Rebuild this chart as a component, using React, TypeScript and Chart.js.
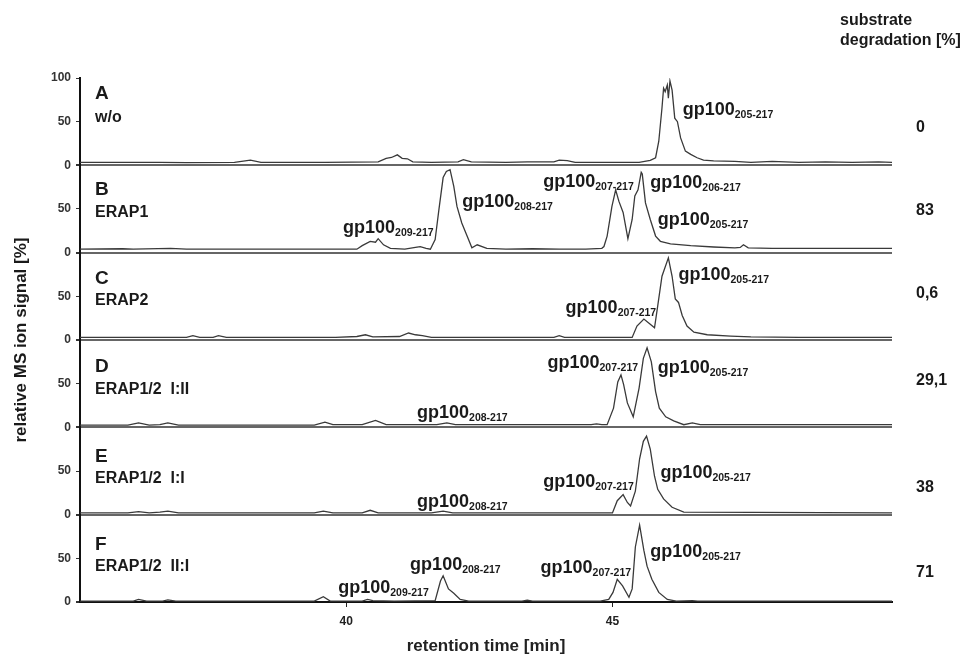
import React, { useEffect, useRef } from "react";
import { Chart, registerables } from "chart.js";

Chart.register(...registerables);

// ---------- data ----------
const xTicks = [40, 45];
const yTicksTop = [0, 50, 100];
const yTicksOther = [0, 50];

const panelLetters = ["A", "B", "C", "D", "E", "F"];
const panelConditions = ["w/o", "ERAP1", "ERAP2", "ERAP1/2  I:II", "ERAP1/2  I:I", "ERAP1/2  II:I"];
const degradationValues = ["0", "83", "0,6", "29,1", "38", "71"];

const timeA = [35.0, 36.5, 37.0, 37.9, 38.2, 38.4, 39.6, 40.6, 40.75, 40.85, 40.96, 41.05, 41.15, 41.25, 41.6, 42.1, 42.2, 42.35, 43.0, 43.4, 43.9, 44.0, 44.15, 44.3, 45.5, 45.71, 45.81, 45.87, 45.93, 45.96, 45.99, 46.03, 46.05, 46.08, 46.12, 46.17, 46.22, 46.28, 46.37, 46.47, 46.59, 46.71, 46.9, 47.3, 47.6, 48.0, 48.5, 49.0, 49.5, 50.0, 50.25];
const signalA = [3.5, 3.5, 3, 3.5, 6, 3.5, 3.5, 4, 8, 9, 12, 8, 7.5, 4, 3.5, 4, 6.5, 4, 3.5, 4, 4, 6, 5.5, 3.5, 3.5, 5.7, 8.7, 27.6, 65.6, 88.3, 84.4, 92, 77, 96.6, 86, 54, 50, 31.4, 16.3, 12.5, 8.7, 6, 5, 4.5, 3.5, 4.5, 3.5, 4, 3.5, 4, 3.5];

const timeB = [35.0, 35.8, 36.0, 36.7, 37.0, 38.5, 39.5, 40.2, 40.3, 40.45, 40.55, 40.6, 40.7, 40.83, 41.1, 41.3, 41.39, 41.5, 41.58, 41.67, 41.74, 41.82, 41.88, 41.95, 42.02, 42.08, 42.17, 42.27, 42.36, 42.46, 42.64, 43.0, 43.5, 44.0, 44.5, 44.8, 44.84, 44.9, 44.99, 45.06, 45.12, 45.2, 45.29, 45.37, 45.42, 45.48, 45.54, 45.56, 45.62, 45.71, 45.81, 45.9, 46.09, 46.47, 46.9, 47.3, 47.4, 47.46, 47.55, 48.0, 49.0, 50.25];
const signalB = [4, 4.5, 4, 5, 4, 4, 4, 4, 8, 13, 12, 16, 9, 5, 4, 6, 7, 5, 4, 15, 49, 86, 93, 95, 76, 53, 34, 19, 5.5, 9, 5, 4, 4.5, 4, 4, 5, 7, 19, 53, 72, 59, 46, 16, 38, 65, 72, 92, 90, 57, 38, 19, 13, 10, 8, 6.5, 5.5, 6, 9, 5.5, 5, 5, 5];

const timeC = [35.0, 36.5, 37.0, 37.12, 37.25, 37.5, 37.6, 37.75, 39.8, 40.2, 40.36, 40.5, 41.0, 41.17, 41.3, 41.43, 41.6, 43.5, 43.9, 44.0, 44.1, 45.3, 45.37, 45.46, 45.59, 45.71, 45.79, 45.85, 45.93, 46.05, 46.12, 46.18, 46.24, 46.31, 46.4, 46.53, 46.78, 47.22, 47.6, 48.5, 50.25];
const signalC = [3, 3, 3, 5, 3, 3, 5, 3, 3, 4, 6, 3.5, 4, 8, 6, 5, 3, 3, 3, 5, 3, 3, 3, 16, 24, 18, 14, 39, 73, 94, 73, 47, 43, 28, 16, 9, 6, 4.5, 3.5, 3, 3];

const timeD = [35.0, 35.9, 36.1, 36.3, 36.5, 36.65, 36.85, 39.4, 39.6, 39.75, 40.3, 40.55, 40.75, 41.7, 41.89, 42.05, 44.6, 44.7, 44.8, 44.9, 45.02, 45.1, 45.16, 45.21, 45.28, 45.39, 45.5, 45.58, 45.65, 45.73, 45.81, 45.88, 46.0, 46.15, 46.34, 46.5, 46.65, 50.25];
const signalD = [2.5, 2.5, 5, 2.5, 3, 5, 2.5, 2.5, 6, 3, 3, 8, 3, 3, 5, 3, 3, 4, 3, 3, 22, 52, 60, 49, 28, 12, 45, 79, 91, 75, 41, 22, 12, 7.5, 3, 5, 3, 3];

const timeE = [35.0, 35.9, 36.1, 36.3, 36.5, 36.65, 36.85, 39.4, 39.57, 39.75, 40.3, 40.45, 40.6, 41.6, 41.82, 42.0, 44.9, 45.0, 45.09, 45.2, 45.28, 45.34, 45.43, 45.51, 45.58, 45.64, 45.71, 45.79, 45.85, 45.96, 46.12, 46.34, 50.25];
const signalE = [2, 2, 3.5, 2, 3, 4, 2, 2, 4, 2, 2, 5, 2, 2, 4, 2, 2, 2, 16, 23, 14, 10, 27, 64, 84, 90, 75, 44, 29, 18, 8.5, 3, 2];

const timeF = [35.0, 36.0, 36.1, 36.25, 36.55, 36.65, 36.8, 39.4, 39.57, 39.7, 40.3, 40.4, 40.5, 40.9, 41.67, 41.77, 41.82, 41.92, 42.02, 42.14, 42.3, 43.3, 43.4, 43.5, 44.77, 44.93, 45.01, 45.09, 45.19, 45.31, 45.37, 45.43, 45.51, 45.59, 45.65, 45.74, 45.87, 46.03, 46.2, 46.5, 46.6, 50.25];
const signalF = [1, 1, 3, 1, 1, 2.5, 1, 1, 6, 1, 1, 3, 1.5, 1, 1.5, 24, 30, 15, 10, 3, 1, 1, 2, 1, 1, 3, 11, 26, 18.5, 5.5, 15, 63, 88, 59, 41, 26, 11, 3, 1, 1.5, 1, 1];

// peak annotations: panel, fragment, anchor time, anchor level
const peakPanels = [0, 1, 1, 1, 1, 1, 2, 2, 3, 3, 3, 4, 4, 4, 5, 5, 5, 5];
const peakFragments = ["205-217", "209-217", "208-217", "207-217", "206-217", "205-217", "207-217", "205-217", "208-217", "207-217", "205-217", "208-217", "207-217", "205-217", "209-217", "208-217", "207-217", "205-217"];
const peakTimes = [46.32, 39.94, 42.18, 43.7, 45.71, 45.85, 44.12, 46.24, 41.33, 43.78, 45.85, 41.33, 43.7, 45.9, 39.85, 41.2, 43.65, 45.71];
const peakLevels = [57.6, 22.5, 52.3, 75.2, 74, 31.7, 31, 68.7, 10.6, 68, 62.2, 8.8, 31.7, 42, 10.3, 36.6, 33.2, 51.5];

// ---------- layout (not data) ----------
const FONT = '"Liberation Sans", Arial, sans-serif';
const panelIds = ["yA", "yB", "yC", "yD", "yE", "yF"];
const letterLevels = [75.9, 66, 64, 63.3, 60.3, 59.5];
const conditionLevels = [49.6, 40.5, 40.1, 38.1, 36.3, 35.5];
const degradationLevels = [38.1, 43, 48, 48.4, 25.9, 28.6];

const panelTimes = [timeA, timeB, timeC, timeD, timeE, timeF];
const panelSignals = [signalA, signalB, signalC, signalD, signalE, signalF];

const annotationPlugin = {
  id: "annotations",
  afterDraw(chart: any) {
    const ctx = chart.ctx;
    const xs = chart.scales.x;
    const area = chart.chartArea;
    ctx.save();
    ctx.fillStyle = "#1a1a1a";
    ctx.textBaseline = "alphabetic";

    // y axis title
    ctx.save();
    ctx.translate(26, (area.top + area.bottom) / 2);
    ctx.rotate(-Math.PI / 2);
    ctx.textAlign = "center";
    ctx.font = `bold 17px ${FONT}`;
    ctx.fillText("relative MS ion signal [%]", 0, 0);
    ctx.restore();

    ctx.textAlign = "left";
    // panel labels and degradation values
    panelIds.forEach((id, i) => {
      const ys = chart.scales[id];
      ctx.font = `bold 19px ${FONT}`;
      ctx.fillText(panelLetters[i], area.left + 15, ys.getPixelForValue(letterLevels[i]));
      ctx.font = `bold 16px ${FONT}`;
      ctx.fillText(panelConditions[i], area.left + 15, ys.getPixelForValue(conditionLevels[i]));
      ctx.font = `bold 16px ${FONT}`;
      ctx.fillText(degradationValues[i], 916, ys.getPixelForValue(degradationLevels[i]));
    });

    // peak labels
    peakPanels.forEach((p, k) => {
      const ys = chart.scales[panelIds[p]];
      const x = xs.getPixelForValue(peakTimes[k]);
      const y = ys.getPixelForValue(peakLevels[k]);
      ctx.font = `bold 18px ${FONT}`;
      ctx.fillText("gp100", x, y);
      const w = ctx.measureText("gp100").width;
      ctx.font = `bold 10.5px ${FONT}`;
      ctx.fillText(peakFragments[k], x + w, y + 3);
    });

    // header
    ctx.font = `bold 16px ${FONT}`;
    ctx.fillText("substrate", 840, 25);
    ctx.fillText("degradation [%]", 840, 45);
    ctx.restore();
  },
};

export default function App() {
  const canvasRef = useRef<HTMLCanvasElement | null>(null);

  useEffect(() => {
    if (!canvasRef.current) return;
    Chart.defaults.font.family = FONT;

    const datasets = panelIds.map((id, i) => ({
      label: panelLetters[i],
      data: panelTimes[i].map((t, j) => ({ x: t, y: panelSignals[i][j] })),
      xAxisID: "x",
      yAxisID: id,
      borderColor: "#3a3a3a",
      borderWidth: 1.3,
      pointRadius: 0,
      tension: 0,
      fill: false,
    }));

    const scales: any = {
      x: {
        type: "linear",
        position: "bottom",
        min: 35,
        max: 50.25,
        afterBuildTicks: (s: any) => {
          s.ticks = xTicks.map((v) => ({ value: v }));
        },
        afterFit: (s: any) => {
          s.height = 55;
        },
        grid: { display: true, drawOnChartArea: false, drawTicks: true, tickLength: 5, tickColor: "#222", lineWidth: 1 },
        border: { display: true, color: "#111", width: 2 },
        ticks: { font: { size: 12, weight: "bold" }, color: "#222", padding: 7, maxRotation: 0 },
        title: { display: true, text: "retention time [min]", font: { size: 17, weight: "bold" }, color: "#222", padding: { top: 0, bottom: 0 } },
      },
    };

    // stacked left axes: the last-defined axis is placed on top, so define F first
    for (let i = panelIds.length - 1; i >= 0; i--) {
      const id = panelIds[i];
      scales[id] = {
        type: "linear",
        position: "left",
        stack: "panels",
        stackWeight: 1,
        min: 0,
        max: 100,
        afterBuildTicks: (s: any) => {
          s.ticks = (i === 0 ? yTicksTop : yTicksOther).map((v) => ({ value: v }));
        },
        afterFit: (s: any) => {
          s.width = 44;
        },
        grid: {
          display: true,
          drawOnChartArea: true,
          drawTicks: true,
          tickLength: 4,
          tickColor: "#333",
          color: (c: any) => (c.tick && c.tick.value === 0 ? "#666" : "rgba(0,0,0,0)"),
          lineWidth: (c: any) => (c.tick && c.tick.value === 0 ? 2 : 1),
        },
        border: { display: true, color: "#111", width: 2 },
        ticks: { font: { size: 12, weight: "bold" }, color: "#333", padding: 5 },
      };
    }

    const chart = new Chart(canvasRef.current, {
      type: "line",
      data: { datasets },
      options: {
        animation: false,
        responsive: false,
        devicePixelRatio: 1,
        layout: { padding: { left: 36, right: 80, top: 78, bottom: 0 } },
        plugins: { legend: { display: false }, tooltip: { enabled: false } },
        scales,
      },
      plugins: [annotationPlugin],
    } as any);

    return () => chart.destroy();
  }, []);

  return (
    <div style={{ position: "absolute", left: 0, top: 0, width: 972, height: 657, background: "#fff" }}>
      <canvas ref={canvasRef} width={972} height={657} style={{ display: "block" }} />
    </div>
  );
}
